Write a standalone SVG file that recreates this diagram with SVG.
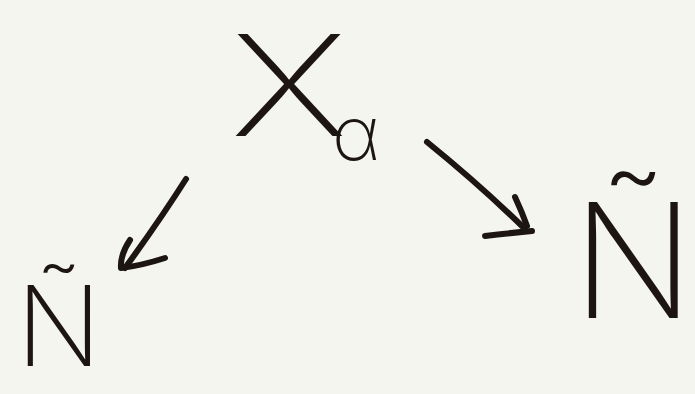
<svg xmlns="http://www.w3.org/2000/svg" width="695" height="394" viewBox="0 0 695 394">
<style>
.lbl{font-family:Inter,"DejaVu Sans","Liberation Sans",sans-serif;font-weight:200;fill:#1c1512}
.ink{fill:none;stroke:#1c1512;stroke-width:6;stroke-linecap:round;stroke-linejoin:round}
</style>
<rect width="695" height="394" fill="#f5f5f0"/>
<g id="x-alpha">
<text class="lbl" x="230" y="136" font-size="140" textLength="118" lengthAdjust="spacingAndGlyphs">X</text>
<text class="lbl" x="332" y="160" font-size="75">α</text>
</g>
<g id="n-left">
<text class="lbl" x="16" y="366" font-size="112">Ñ</text>
</g>
<g id="n-right">
<text class="lbl" x="572" y="318" font-size="160">Ñ</text>
</g>
<g id="connectors">
<path class="ink" d="M186,179 Q160,220 125,268"/>
<path class="ink" d="M130,240 Q120,255 121,268 Q140,266 165,258"/>
<path class="ink" d="M427,142 Q480,185 524,228"/>
<path class="ink" d="M515,197 Q522,212 527,226"/>
<path class="ink" d="M485,236 Q510,233 532,231"/>
</g>
</svg>
